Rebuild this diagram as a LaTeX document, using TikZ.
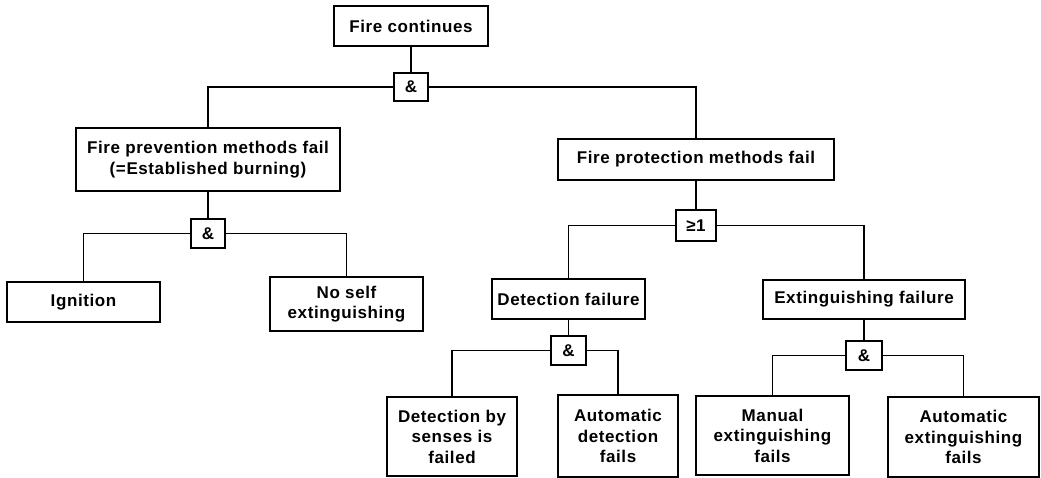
\documentclass[tikz,border=0pt]{standalone}
\usepackage{fontspec}
\setmainfont{Liberation Sans}[LetterSpace=3.5]
\begin{document}
\begin{tikzpicture}[x=1pt,y=-1pt,
  every node/.style={font=\bfseries\fontsize{17}{20.5}\selectfont},
  event/.style={draw, line width=1.1pt, inner sep=0pt, align=center},
  gate/.style={draw, line width=1.1pt, inner sep=0pt, align=center},
  link/.style={line width=1.1pt}]
\useasboundingbox (0,0) rectangle (1041,478);

% events
\node[event, minimum width=154, minimum height=40] (top) at (411,26) {Fire continues};
\node[event, minimum width=264, minimum height=63] (prev) at (208,159.5) {Fire prevention methods fail\\(=Established burning)};
\node[event, minimum width=276, minimum height=41] (prot) at (696,159.5) {Fire protection methods fail};
\node[event, minimum width=153, minimum height=40] (ign) at (83.5,302) {Ignition};
\node[event, minimum width=153, minimum height=54] (noself) at (346.5,304) {No self\\extinguishing};
\node[event, minimum width=153, minimum height=40] (det) at (568.5,299) {Detection failure};
\node[event, minimum width=202, minimum height=39] (ext) at (864,299.5) {Extinguishing failure};
\node[event, minimum width=130, minimum height=79] (senses) at (452,436.5) {Detection by\\senses is\\failed};
\node[event, minimum width=120, minimum height=82] (autodet) at (618,436) {Automatic\\detection\\fails};
\node[event, minimum width=153, minimum height=79] (manual) at (772.5,435.5) {Manual\\extinguishing\\fails};
\node[event, minimum width=151, minimum height=80] (autoext) at (963.5,437) {Automatic\\extinguishing\\fails};

% gates
\node[gate, minimum width=34, minimum height=28] (g1) at (411,87) {\&};
\node[gate, minimum width=34, minimum height=29] (g2) at (208,233.5) {\&};
\node[gate, minimum width=40, minimum height=31] (gor) at (696,225.5) {≥1};
\node[gate, minimum width=35, minimum height=29] (g3) at (568.5,350.5) {\&};
\node[gate, minimum width=36, minimum height=29] (g4) at (864,355.5) {\&};

% connectors
\draw[link] (top.south) -- (g1.north);
\draw[link] (g1.west) -| (prev.north);
\draw[link] (g1.east) -| (prot.north);
\draw[link] (prev.south) -- (g2.north);
\draw[link] (g2.west) -| (ign.north);
\draw[link] (g2.east) -| (noself.north);
\draw[link] (prot.south) -- (gor.north);
\draw[link] (gor.west) -| (det.north);
\draw[link] (gor.east) -| (ext.north);
\draw[link] (det.south) -- (g3.north);
\draw[link] (g3.west) -| (senses.north);
\draw[link] (g3.east) -| (autodet.north);
\draw[link] (ext.south) -- (g4.north);
\draw[link] (g4.west) -| (manual.north);
\draw[link] (g4.east) -| (autoext.north);
\end{tikzpicture}
\end{document}
